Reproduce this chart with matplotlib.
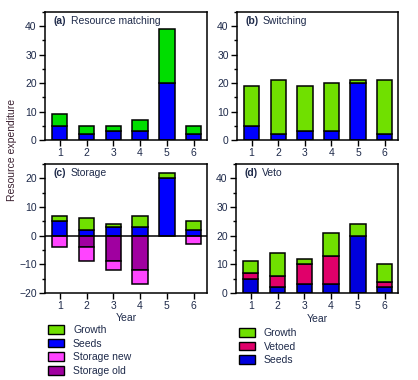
import matplotlib
matplotlib.use("Agg")
import matplotlib.pyplot as plt
from matplotlib.patches import Patch

plt.rcParams["font.family"] = ["Liberation Sans", "DejaVu Sans"]
plt.rcParams["font.size"] = 7.5

years = [1, 2, 3, 4, 5, 6]

# (a) Resource matching
a_seeds = [5, 2, 3, 3, 20, 2]
a_growth = [4, 3, 2, 4, 19, 3]

# (b) Switching
b_seeds = [5, 2, 3, 3, 20, 2]
b_growth = [14, 19, 16, 17, 1, 19]

# (c) Storage
c_seeds = [5, 2, 3, 3, 20, 2]
c_growth = [2, 4, 1, 4, 2, 3]
c_storage_old = [0, -4, -9, -12, 0, 0]
c_storage_new = [-4, -5, -3, -5, 0, -3]

# (d) Veto
d_seeds = [5, 2, 3, 3, 20, 2]
d_vetoed = [2, 4, 7, 10, 0, 2]
d_growth = [4, 8, 2, 8, 4, 6]

GREEN_A = "#00dd00"
GREEN = "#70e000"
BLUE = "#0000ff"
BLUE_D = "#0000dd"
PINK = "#ff44ff"
PURPLE = "#a000a0"
VETO = "#e0006a"
TXT = "#1e2a4a"

W, H = 418, 380
fig = plt.figure(figsize=(W / 100, H / 100), dpi=100)


def add_ax(l, t, r, b):
    return fig.add_axes([l / W, 1 - b / H, (r - l) / W, (b - t) / H])


def style(ax, ylim, yticks, tag, title):
    ax.set_xlim(0.45, 6.5)
    ax.set_ylim(*ylim)
    ax.set_xticks(years)
    ax.set_yticks(yticks)
    ax.set_yticks(range(ylim[0], ylim[1] + 1, 5), minor=True)
    ax.tick_params(direction="out", length=4, width=1, colors="black",
                   labelcolor=TXT, labelsize=7.5, pad=2)
    ax.tick_params(which="minor", direction="out", length=2.5, width=1)
    for s in ax.spines.values():
        s.set_linewidth(1.1)
    ax.text(0.05, 0.93, tag, transform=ax.transAxes, fontweight="bold",
            fontsize=7.5, va="center", color=TXT)
    ax.text(0.16, 0.93, title, transform=ax.transAxes, fontsize=7.5,
            va="center", color=TXT)


bw = 0.58
kw = dict(width=bw, edgecolor="black", linewidth=1.1)

ax = add_ax(45, 12, 207, 140)
ax.bar(years, a_seeds, color=BLUE, **kw)
ax.bar(years, a_growth, bottom=a_seeds, color=GREEN_A, **kw)
style(ax, (0, 45), [0, 10, 20, 30, 40], "(a)", "Resource matching")

ax = add_ax(237, 12, 398, 140)
ax.bar(years, b_seeds, color=BLUE, **kw)
ax.bar(years, b_growth, bottom=b_seeds, color=GREEN, **kw)
style(ax, (0, 45), [0, 10, 20, 30, 40], "(b)", "Switching")

ax = add_ax(45, 164, 207, 293)
ax.bar(years, c_seeds, color=BLUE, **kw)
ax.bar(years, c_growth, bottom=c_seeds, color=GREEN, **kw)
old_idx = [i for i, v in enumerate(c_storage_old) if v != 0]
ax.bar([years[i] for i in old_idx], [c_storage_old[i] for i in old_idx],
       color=PURPLE, **kw)
new_idx = [i for i, v in enumerate(c_storage_new) if v != 0]
ax.bar([years[i] for i in new_idx], [c_storage_new[i] for i in new_idx],
       bottom=[c_storage_old[i] for i in new_idx], color=PINK, **kw)
ax.axhline(0, color="black", linewidth=1.1)
style(ax, (-20, 25), [-20, -10, 0, 10, 20], "(c)", "Storage")
ax.set_xlabel("Year", color=TXT, fontsize=7.5, labelpad=1)

ax = add_ax(236, 164, 398, 293)
ax.bar(years, d_seeds, color=BLUE_D, **kw)
v_idx = [i for i, v in enumerate(d_vetoed) if v != 0]
ax.bar([years[i] for i in v_idx], [d_vetoed[i] for i in v_idx],
       bottom=[d_seeds[i] for i in v_idx], color=VETO, **kw)
ax.bar(years, d_growth, bottom=[s + v for s, v in zip(d_seeds, d_vetoed)],
       color=GREEN, **kw)
style(ax, (0, 45), [0, 10, 20, 30, 40], "(d)", "Veto")
ax.set_xlabel("Year", color=TXT, fontsize=7.5, labelpad=2)

fig.text(12 / W, 1 - 150 / H, "Resource expenditure", rotation=90,
         ha="center", va="center", color="#3a2030", fontsize=7.5)

leg_kw = dict(frameon=False, handlelength=1.5, handleheight=0.9,
              handletextpad=0.9, labelspacing=0.35, fontsize=7.5,
              borderpad=0, borderaxespad=0, labelcolor=TXT)

left_handles = [Patch(facecolor=GREEN, edgecolor="black", label="Growth"),
                Patch(facecolor=BLUE, edgecolor="black", label="Seeds"),
                Patch(facecolor=PINK, edgecolor="black", label="Storage new"),
                Patch(facecolor=PURPLE, edgecolor="black", label="Storage old")]
fig.legend(handles=left_handles, loc="upper left",
           bbox_to_anchor=(48 / W, 1 - 325 / H), **leg_kw)

right_handles = [Patch(facecolor=GREEN, edgecolor="black", label="Growth"),
                 Patch(facecolor=VETO, edgecolor="black", label="Vetoed"),
                 Patch(facecolor=BLUE_D, edgecolor="black", label="Seeds")]
fig.legend(handles=right_handles, loc="upper left",
           bbox_to_anchor=(239 / W, 1 - 328 / H), **leg_kw)

fig.savefig("out.png", dpi=100)
